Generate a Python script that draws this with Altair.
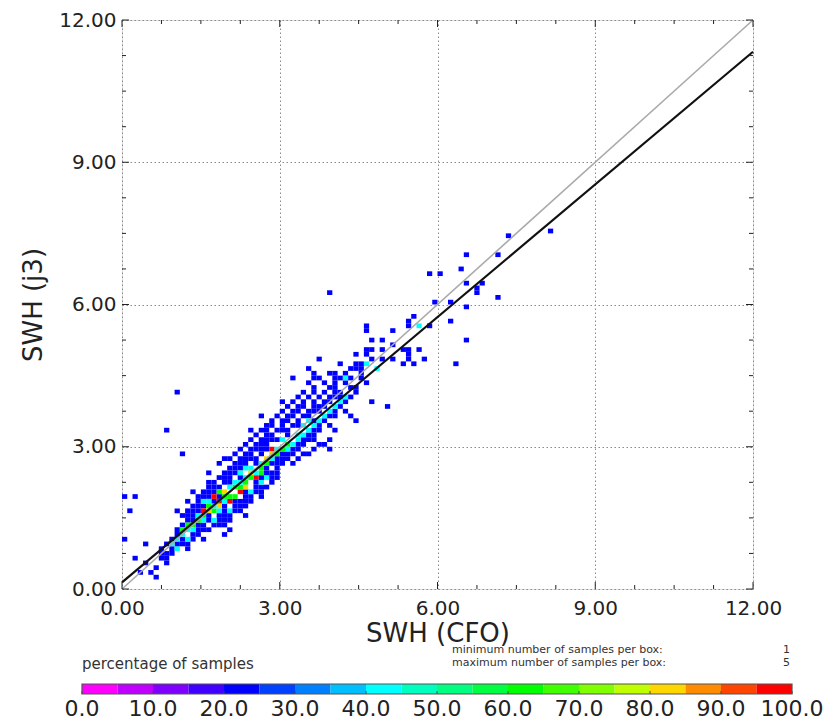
import altair as alt
import pandas as pd

# ---------------- data ----------------
BIN = 0.1            # box size (SWH units)
MIN_SAMPLES = 1
MAX_SAMPLES = 5

# single-sample boxes, grouped by row (y lower edge -> x lower edges)
row_y = [0.2, 0.3, 0.4, 0.5, 0.6, 0.7, 0.8, 0.9, 1.0, 1.1, 1.2, 1.3, 1.4, 1.5, 1.6,
         1.7, 1.8, 1.9, 2.0, 2.1, 2.2, 2.3, 2.4, 2.5, 2.6, 2.7, 2.8, 2.9, 3.0, 3.1,
         3.2, 3.3, 3.4, 3.5, 3.6, 3.7, 3.8, 3.9, 4.0, 4.1, 4.2, 4.3, 4.4, 4.5, 4.6,
         4.7, 4.8, 4.9, 5.0, 5.1, 5.2, 5.4, 5.5, 5.6, 5.7, 5.9, 6.0, 6.1, 6.2, 6.3,
         6.4, 6.6, 6.7, 7.0, 7.4, 7.5]
row_x = [
    [0.6], [0.3, 0.5], [0.6], [0.4, 0.8], [0.2, 0.7, 0.8], [0.7, 0.8, 0.9],
    [0.7, 0.9, 1.0, 1.2], [0.4, 0.8, 1.0, 1.1, 1.2], [0.0, 0.9, 1.1, 1.3, 1.5],
    [1.0, 1.3, 1.4, 1.9], [1.0, 1.4, 1.5, 1.6, 2.0], [1.1, 1.4, 1.5, 1.7, 1.8, 1.9],
    [1.2, 1.3, 1.6, 1.8, 1.9, 2.0], [1.1, 1.2, 1.3, 1.6, 1.8, 1.9, 2.0, 2.3],
    [0.1, 1.0, 1.2, 1.3, 1.4, 1.7, 1.9, 2.0, 2.1, 2.2], [1.3, 1.4, 1.5, 1.9, 2.1, 2.2, 2.3],
    [1.2, 1.4, 1.5, 1.7, 2.1, 2.2, 2.3, 2.4], [0.0, 0.2, 1.4, 1.5, 1.6, 1.8, 2.3, 2.4, 2.6],
    [1.3, 1.5, 1.6, 1.7, 2.3, 2.4, 2.5, 2.6], [1.6, 1.7, 1.8, 2.5, 2.6, 2.7],
    [1.6, 1.7, 1.9, 2.0, 2.5, 2.6, 2.8], [1.8, 1.9, 2.0, 2.2, 2.6, 2.7, 2.8, 2.9],
    [1.6, 1.9, 2.0, 2.1, 2.6, 2.7, 2.8, 2.9], [2.0, 2.1, 2.2, 2.3, 2.7, 2.9],
    [1.8, 2.1, 2.2, 2.3, 2.5, 2.8, 2.9, 3.0, 3.2],
    [1.9, 2.0, 2.2, 2.3, 2.4, 2.5, 2.9, 3.0, 3.1, 3.3],
    [1.1, 2.1, 2.3, 2.4, 2.6, 3.0, 3.1, 3.2, 3.4, 3.5],
    [2.2, 2.4, 2.5, 2.6, 2.7, 3.2, 3.3, 3.6, 3.9],
    [2.3, 2.5, 2.6, 2.7, 3.3, 3.4, 3.7, 3.8], [2.4, 2.6, 2.7, 2.8, 2.9, 3.4, 3.5, 3.6, 3.9],
    [2.5, 2.7, 2.8, 3.1, 3.5, 3.6], [0.8, 2.4, 2.6, 2.7, 2.9, 3.0, 3.1, 3.6, 3.7, 4.0],
    [2.7, 2.8, 3.0, 3.2, 3.3, 3.7, 3.9], [2.8, 3.0, 3.1, 3.3, 3.6, 3.8, 4.4],
    [2.6, 2.9, 3.1, 3.2, 3.4, 3.5, 3.9, 4.0, 4.3], [3.0, 3.2, 3.3, 3.5, 3.6, 3.7, 4.0, 4.2],
    [3.1, 3.3, 3.4, 3.6, 3.7, 3.8, 4.1, 5.0], [3.0, 3.2, 3.4, 3.6, 3.8, 3.9, 4.2, 4.7],
    [3.3, 3.5, 3.7, 3.9, 4.0, 4.1, 4.3], [1.0, 3.4, 3.6, 3.8, 4.0, 4.1, 4.4],
    [3.6, 3.9, 4.0, 4.3, 4.4], [3.5, 3.8, 4.0, 4.2, 4.6],
    [3.2, 3.6, 3.7, 4.0, 4.1, 4.3, 4.5], [3.6, 3.9, 4.0, 4.2, 4.5], [3.5, 4.3, 4.4, 4.5, 4.8],
    [4.1, 4.4, 4.5, 5.3, 5.5, 6.3], [3.7, 4.7, 4.9, 5.1, 5.4, 5.7], [4.4, 4.6, 5.4],
    [4.6, 4.7, 4.9, 5.3, 5.4, 5.6], [5.1], [4.7, 4.9, 6.5], [4.6, 5.1],
    [4.6, 5.4, 5.8], [5.4, 6.2], [5.5], [6.5], [5.9, 6.2], [7.1], [3.9, 6.7], [6.7],
    [6.5, 6.8], [5.8, 6.0], [6.4], [6.5, 7.1], [7.3], [8.1],
]

# boxes holding more than one sample (x lower edge, y lower edge, count)
hot_x = [1.5, 1.7, 1.8, 2.0, 2.2, 2.5, 2.8,
         1.8, 1.6, 2.3, 2.7, 2.8, 1.9, 2.4,
         1.1, 1.2, 1.3, 1.4, 1.6, 1.7, 1.9, 2.0, 2.1, 2.2, 2.3, 2.4, 2.6, 2.7, 2.9, 3.0,
         3.1, 1.8, 2.1, 2.6, 1.5,
         0.9, 1.0, 1.1, 1.2, 1.3, 1.4, 1.5, 1.6, 1.7, 1.8, 1.9, 2.0, 2.1, 2.2, 2.3, 2.4,
         2.5, 2.6, 2.8, 2.9, 3.0, 3.1, 3.2, 3.3, 3.3, 3.4, 3.5, 3.6, 3.7, 3.4, 3.8, 3.9,
         4.0, 4.1, 4.2, 3.5, 2.2, 1.5, 2.6, 2.3, 5.6, 4.6, 4.2, 4.8, 1.2, 2.0, 2.4, 1.7,
         2.7, 1.0]
hot_y = [1.6, 1.9, 1.8, 1.8, 2.0, 2.3, 2.9,
         1.7, 1.6, 2.1, 2.7, 2.8, 2.0, 2.4,
         1.2, 1.3, 1.3, 1.4, 1.7, 1.6, 1.9, 1.9, 2.1, 2.1, 2.2, 2.3, 2.5, 2.6, 2.8, 2.9,
         3.0, 2.0, 1.9, 2.4, 1.5,
         0.9, 1.0, 1.1, 1.2, 1.2, 1.5, 1.4, 1.8, 1.7, 1.6, 1.8, 2.1, 2.2, 2.2, 2.3, 2.5,
         2.4, 2.6, 2.7, 2.9, 3.1, 2.9, 3.0, 3.1, 3.2, 3.2, 3.3, 3.4, 3.5, 3.4, 3.6, 3.7,
         3.8, 3.9, 4.0, 3.5, 2.4, 1.8, 2.2, 2.5, 5.5, 4.7, 4.4, 4.6, 1.0, 1.6, 2.0, 1.4,
         2.3, 0.8]
hot_n = [5, 5, 5, 5, 5, 5, 5,
         4, 4, 4, 4, 4, 4, 4,
         3, 3, 3, 3, 3, 3, 3, 3, 3, 3, 3, 3, 3, 3, 3, 3, 3, 3, 3, 3, 3,
         2, 2, 2, 2, 2, 2, 2, 2, 2, 2, 2, 2, 2, 2, 2, 2, 2, 2, 2, 2, 2, 2, 2, 2, 2, 2,
         2, 2, 2, 2, 2, 2, 2, 2, 2, 2, 2, 2, 2, 2, 2, 2, 2, 2, 2, 2, 2, 2, 2, 2]

fit_x = [0.0, 12.0]          # regression line end points
fit_y = [0.14, 11.33]
diag_x = [0.0, 12.0]         # y = x reference
diag_y = [0.0, 12.0]

major_ticks = [0, 3, 6, 9, 12]
minor_ticks = [0.75, 1.5, 2.25, 3.75, 4.5, 5.25, 6.75, 7.5, 8.25, 9.75, 10.5, 11.25]

palette = ["#ff00ff", "#bf00ff", "#8000ff", "#4000ff", "#0000ff", "#0040ff", "#0080ff",
           "#00bfff", "#00ffff", "#00ffbf", "#00ff80", "#00ff40", "#00ff00", "#40ff00",
           "#80ff00", "#c0ff00", "#ffd700", "#ff8c00", "#ff4500", "#ff0000"]
cb_edges = [0, 5, 10, 15, 20, 25, 30, 35, 40, 45, 50, 55, 60, 65, 70, 75, 80, 85, 90, 95, 100]
cb_labels = [0, 10, 20, 30, 40, 50, 60, 70, 80, 90, 100]

# ---------------- tables ----------------
cells = {}
for yv, xs in zip(row_y, row_x):
    for xv in xs:
        cells[(round(xv, 2), round(yv, 2))] = 1
for xv, yv, nv in zip(hot_x, hot_y, hot_n):
    cells[(round(xv, 2), round(yv, 2))] = nv
cell_df = pd.DataFrame(
    [{"x": k[0], "x2": k[0] + BIN, "y": k[1], "y2": k[1] + BIN, "n": v,
      "pct": v / MAX_SAMPLES * 100.0} for k, v in cells.items()]
)
fit_df = pd.DataFrame({"x": fit_x, "y": fit_y})
diag_df = pd.DataFrame({"x": diag_x, "y": diag_y})
major_df = pd.DataFrame({"t": major_ticks})
minor_df = pd.DataFrame({"t": minor_ticks})
cb_df = pd.DataFrame({"lo": cb_edges[:-1], "hi": cb_edges[1:],
                      "mid": [(a + b) / 2 for a, b in zip(cb_edges[:-1], cb_edges[1:])]})
cbl_df = pd.DataFrame({"v": cb_labels})

W, H = 631, 569
FONT = "DejaVu Sans"
TXT = "#222222"

xscale = alt.Scale(domain=[0, 12], nice=False, zero=False)
yscale = alt.Scale(domain=[0, 12], nice=False, zero=False)
cscale = alt.Scale(type="threshold", domain=cb_edges[1:-1], range=palette)

axis_common = dict(values=major_ticks, format=".2f", grid=True, gridDash=[1.5, 2.5],
                   gridColor="#8a8a8a", gridWidth=1, ticks=False, domain=False,
                   labelFont=FONT, labelFontSize=20, labelColor=TXT,
                   labelFlush=False, labelOverlap=False, titleFont=FONT, titleFontSize=26,
                   titleFontWeight="normal", titleColor=TXT)

bins = alt.Chart(cell_df).mark_rect(strokeWidth=0).encode(
    x=alt.X("x:Q", scale=xscale,
            axis=alt.Axis(title="SWH (CFO)", titlePadding=2, labelPadding=9, **axis_common)),
    x2="x2:Q",
    y=alt.Y("y:Q", scale=yscale,
            axis=alt.Axis(title="SWH (j3)", titlePadding=12, labelPadding=6, **axis_common)),
    y2="y2:Q",
    color=alt.Color("pct:Q", scale=cscale, legend=None),
)

diag = alt.Chart(diag_df).mark_line(color="#ababab", strokeWidth=1.6).encode(
    x=alt.X("x:Q", scale=xscale), y=alt.Y("y:Q", scale=yscale))
fit = alt.Chart(fit_df).mark_line(color="#111111", strokeWidth=2.2).encode(
    x=alt.X("x:Q", scale=xscale), y=alt.Y("y:Q", scale=yscale))

def tick_layers(df, length):
    c = alt.Chart(df).mark_rule(color="#222222", strokeWidth=1)
    return [
        c.encode(x=alt.X("t:Q", scale=xscale), y=alt.value(H), y2=alt.value(H - length)),
        c.encode(x=alt.X("t:Q", scale=xscale), y=alt.value(0), y2=alt.value(length)),
        c.encode(y=alt.Y("t:Q", scale=yscale), x=alt.value(0), x2=alt.value(length)),
        c.encode(y=alt.Y("t:Q", scale=yscale), x=alt.value(W), x2=alt.value(W - length)),
    ]

def note(text, x, y, size, align="left"):
    return alt.Chart(pd.DataFrame({"t": [text]})).mark_text(
        font=FONT, fontSize=size, color="#333333", align=align, baseline="middle"
    ).encode(text="t:N", x=alt.value(x), y=alt.value(y))

main = alt.layer(
    bins, diag, fit,
    *tick_layers(major_df, 7), *tick_layers(minor_df, 4),
    note("percentage of samples", -40, 644, 15),
    note("minimum number of samples per box:", 330, 630, 11),
    note("maximum number of samples per box:", 330, 643, 11),
    note(str(MIN_SAMPLES), 668, 630, 11, "right"),
    note(str(MAX_SAMPLES), 668, 643, 11, "right"),
)

cbx = alt.Scale(domain=[0, 100], range=[-40, 670], nice=False, zero=False)
cb_rect = alt.Chart(cb_df).mark_rect(strokeWidth=0).encode(
    x=alt.X("lo:Q", scale=cbx, axis=None), x2="hi:Q",
    y=alt.value(664), y2=alt.value(674),
    color=alt.Color("mid:Q", scale=cscale, legend=None),
)
cb_frame = alt.Chart(pd.DataFrame({"lo": [0], "hi": [100]})).mark_rect(
    fill=None, stroke="#555555", strokeWidth=1.2
).encode(x=alt.X("lo:Q", scale=cbx, axis=None), x2="hi:Q", y=alt.value(664), y2=alt.value(674))
cb_ticks = alt.Chart(cbl_df).mark_rule(color="#444444", strokeWidth=1).encode(
    x=alt.X("v:Q", scale=cbx, axis=None), y=alt.value(671), y2=alt.value(674))
cb_text = alt.Chart(cbl_df).mark_text(
    font=FONT, fontSize=22, color=TXT, baseline="middle", align="center"
).encode(x=alt.X("v:Q", scale=cbx, axis=None), y=alt.value(689), text=alt.Text("v:Q", format=".1f"))

colorbar = alt.layer(cb_rect, cb_ticks, cb_frame, cb_text)

chart = alt.layer(main, colorbar).resolve_scale(x="independent").properties(
    width=W, height=H,
    autosize=alt.AutoSizeParams(type="none"),
    padding={"left": 122, "top": 20, "right": 79, "bottom": 132},
).configure_view(stroke="#111111", strokeWidth=1.6).configure(background="white")

chart.save("out.html", embed_options={"renderer": "svg", "actions": False})
